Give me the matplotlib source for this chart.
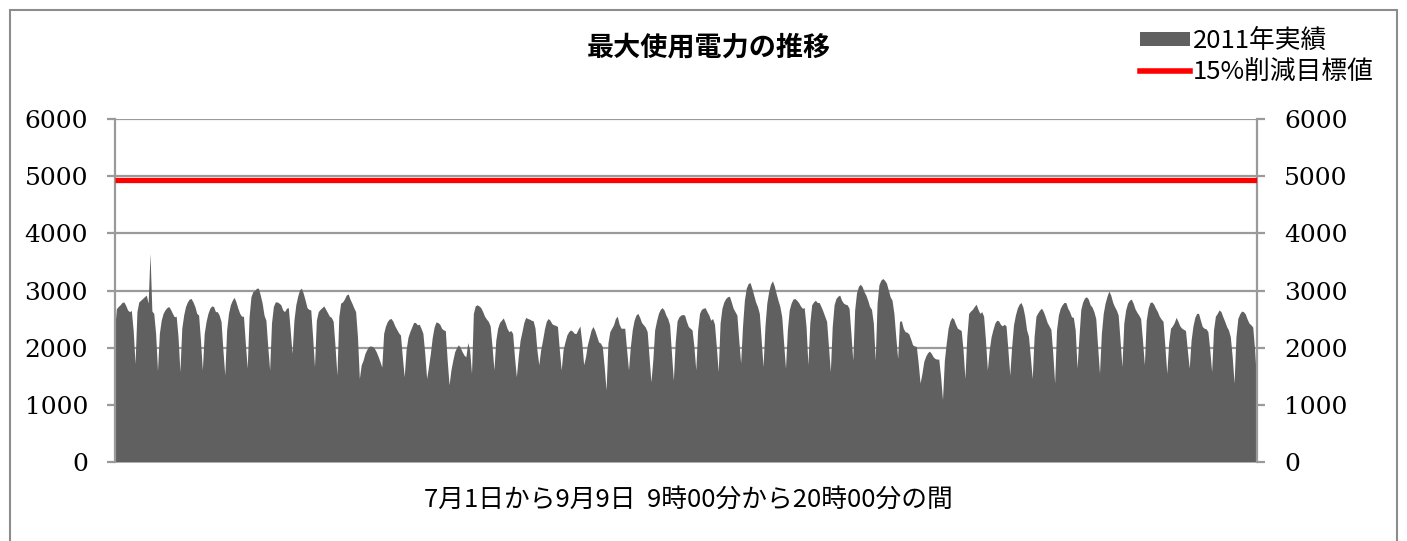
import matplotlib
matplotlib.use("Agg")
import matplotlib.pyplot as plt
import numpy as np
from matplotlib.patches import Patch, Rectangle
from matplotlib.lines import Line2D

# hourly readings 9:00 .. 20:00 (12 values per weekday)
hours = list(range(9, 21))

jul_values = [
    [2300, 2680, 2720, 2750, 2790, 2800, 2740, 2660, 2630, 2650, 2300, 1720],
    [2630, 2800, 2830, 2860, 2890, 2920, 2780, 3650, 2640, 2600, 2250, 1600],
    [2250, 2480, 2600, 2660, 2700, 2720, 2670, 2600, 2540, 2550, 2190, 1580],
    [2340, 2570, 2720, 2800, 2850, 2860, 2800, 2720, 2600, 2570, 2130, 1610],
    [2250, 2460, 2600, 2690, 2730, 2720, 2630, 2630, 2570, 2460, 1960, 1520],
    [2310, 2600, 2750, 2830, 2880, 2800, 2690, 2600, 2550, 2550, 2080, 1640],
    [2540, 2890, 2980, 3000, 3040, 3040, 2920, 2780, 2570, 2480, 2020, 1610],
    [2430, 2720, 2800, 2800, 2780, 2750, 2660, 2630, 2690, 2700, 2310, 1900],
    [2480, 2750, 2900, 3010, 3040, 2950, 2830, 2700, 2670, 2660, 2190, 1670],
    [2480, 2630, 2670, 2700, 2730, 2670, 2610, 2550, 2530, 2460, 2020, 1520],
    [2540, 2780, 2800, 2850, 2920, 2940, 2850, 2780, 2700, 2630, 2190, 1460],
    [1700, 1780, 1900, 1970, 2020, 2030, 2020, 1990, 1930, 1850, 1760, 1660],
    [2250, 2380, 2460, 2500, 2510, 2460, 2380, 2320, 2260, 2220, 1840, 1490],
    [1960, 2180, 2280, 2360, 2440, 2440, 2400, 2410, 2340, 2250, 1900, 1460],
    [1670, 1900, 2180, 2360, 2450, 2440, 2410, 2340, 2310, 2300, 1780, 1350],
    [1610, 1780, 1930, 2000, 2050, 2000, 1930, 1870, 1840, 2090, 1960, 1550],
    [2600, 2730, 2750, 2730, 2700, 2630, 2550, 2500, 2460, 2380, 2020, 1610],
    [2130, 2340, 2440, 2480, 2520, 2440, 2340, 2280, 2300, 2250, 1840, 1490],
    [1840, 2130, 2280, 2440, 2530, 2510, 2500, 2480, 2470, 2340, 1960, 1700],
    [1960, 2130, 2320, 2460, 2510, 2480, 2420, 2400, 2390, 2370, 1960, 1610],
    [1960, 2100, 2220, 2280, 2310, 2290, 2250, 2250, 2320, 2380, 2100, 1700],
]

aug_values = [
    [1840, 2050, 2180, 2310, 2370, 2300, 2200, 2100, 2080, 2020, 1670, 1260],
    [2080, 2280, 2340, 2400, 2510, 2550, 2410, 2340, 2340, 2340, 1960, 1610],
    [2020, 2310, 2480, 2570, 2600, 2530, 2440, 2400, 2360, 2280, 1840, 1400],
    [1780, 2310, 2470, 2600, 2670, 2700, 2660, 2570, 2510, 2400, 1900, 1430],
    [2100, 2470, 2540, 2570, 2580, 2570, 2460, 2370, 2340, 2310, 2020, 1610],
    [2310, 2600, 2670, 2690, 2700, 2630, 2570, 2480, 2510, 2410, 2020, 1580],
    [2430, 2690, 2800, 2860, 2890, 2900, 2800, 2690, 2630, 2570, 2130, 1730],
    [2370, 2830, 3040, 3120, 3140, 3040, 2920, 2800, 2720, 2600, 2130, 1670],
    [2370, 2780, 2980, 3110, 3170, 3080, 2950, 2830, 2720, 2540, 2080, 1640],
    [2310, 2660, 2780, 2850, 2860, 2830, 2790, 2730, 2690, 2700, 2370, 1700],
    [2430, 2750, 2800, 2830, 2790, 2790, 2720, 2640, 2550, 2460, 2020, 1580],
    [2370, 2750, 2860, 2900, 2920, 2830, 2780, 2760, 2750, 2690, 2250, 1780],
    [2660, 2960, 3070, 3110, 3070, 2980, 2920, 2830, 2720, 2670, 2430, 1780],
    [2780, 3100, 3180, 3210, 3180, 3130, 3010, 2890, 2830, 2600, 2190, 1810],
    [2460, 2470, 2340, 2280, 2270, 2240, 2150, 2050, 2030, 2020, 1730, 1380],
    [1550, 1760, 1850, 1910, 1940, 1900, 1840, 1810, 1800, 1800, 1490, 1090],
    [1780, 2080, 2340, 2470, 2530, 2500, 2410, 2340, 2320, 2300, 1960, 1460],
    [2190, 2600, 2640, 2670, 2720, 2760, 2670, 2600, 2630, 2550, 2130, 1610],
    [1960, 2190, 2320, 2430, 2480, 2470, 2410, 2380, 2410, 2380, 1960, 1520],
    [2020, 2400, 2570, 2690, 2760, 2790, 2710, 2550, 2310, 2200, 1840, 1460],
    [2190, 2550, 2610, 2660, 2690, 2630, 2540, 2440, 2380, 2320, 1900, 1380],
    [2310, 2570, 2690, 2750, 2790, 2790, 2690, 2630, 2540, 2530, 2310, 1640],
    [2190, 2670, 2800, 2870, 2890, 2850, 2750, 2710, 2630, 2510, 2020, 1550],
]

sep_values = [
    [2250, 2600, 2780, 2900, 2990, 2920, 2800, 2720, 2660, 2570, 2130, 1670],
    [2430, 2660, 2780, 2830, 2850, 2780, 2680, 2620, 2570, 2510, 2130, 1700],
    [2480, 2690, 2790, 2800, 2760, 2690, 2630, 2550, 2500, 2460, 2020, 1550],
    [2080, 2340, 2380, 2440, 2530, 2460, 2380, 2340, 2320, 2300, 1960, 1640],
    [2130, 2380, 2530, 2600, 2600, 2480, 2370, 2340, 2330, 2280, 1960, 1580],
    [2310, 2550, 2600, 2660, 2630, 2540, 2460, 2370, 2310, 2190, 1840, 1380],
    [2190, 2510, 2590, 2640, 2630, 2590, 2500, 2430, 2400, 2360, 1960, 1430],
]

target_value = 4930
y_ticks = [0, 1000, 2000, 3000, 4000, 5000, 6000]

title_text = "最大使用電力の推移"
xlabel_text = "7月1日から9月9日  9時00分から20時00分の間"
series_actual = "2011年実績"
series_target = "15%削減目標値"

cjk = ["Noto Sans CJK JP", "DejaVu Sans"]

actual = np.concatenate([np.ravel(jul_values), np.ravel(aug_values), np.ravel(sep_values)])
x = np.arange(len(actual))
target = np.full(len(actual), target_value)

W, H = 1407, 541
fig = plt.figure(figsize=(W / 100, H / 100), dpi=100)
fig.patch.set_facecolor("white")

# chart border
fig.patches.append(Rectangle((10 / W, -0.05), (1397 - 10) / W, 1.05 - 10 / H,
                             transform=fig.transFigure, fill=False,
                             edgecolor="#8c8c8c", linewidth=1.5))

ax = fig.add_axes([114.5 / W, 1 - 462 / H, (1256.5 - 114.5) / W, (462 - 119) / H])
grid_col = "#9a9a9a"
ax.fill_between(x, actual, 0, color="#606060", linewidth=0, zorder=2)
ax.plot(x, target, color="#ff0000", linewidth=3.8, zorder=3, solid_capstyle="butt")

ax.set_xlim(x[0], x[-1])
ax.set_ylim(0, 6000)
ax.set_yticks(y_ticks)
for v in y_ticks:
    ax.axhline(v, color=grid_col, linewidth=1.6, zorder=1)
ax.set_xticks([])
for s in ["top", "bottom"]:
    ax.spines[s].set_visible(False)
for s in ["left", "right"]:
    ax.spines[s].set_color(grid_col)
    ax.spines[s].set_linewidth(1.6)

serif = "DejaVu Serif"
ax.tick_params(axis="y", direction="out", length=6, width=1.6, color=grid_col,
               labelsize=18, pad=13)
for lab in ax.get_yticklabels():
    lab.set_family(serif)

ax2 = ax.twinx()
ax2.set_ylim(0, 6000)
ax2.set_yticks(y_ticks)
ax2.tick_params(axis="y", direction="out", length=6, width=1.6, color=grid_col,
                labelsize=18, pad=14)
for lab in ax2.get_yticklabels():
    lab.set_family(serif)
for s in ax2.spines.values():
    s.set_visible(False)

fig.text(709 / W, 1 - 48 / H, title_text, ha="center", va="center",
         fontsize=19.5, fontweight="bold", family=cjk)
fig.text(688 / W, 1 - 500 / H, xlabel_text, ha="center", va="center",
         fontsize=18.5, family=cjk)

handles = [Patch(facecolor="#606060", edgecolor="none"),
           Line2D([0], [0], color="#ff0000", linewidth=4)]
fig.legend(handles, [series_actual, series_target], loc="upper left",
           bbox_to_anchor=(1140 / W, 1 - 28 / H), frameon=False,
           prop={"family": cjk, "size": 18.5}, handlelength=1.95,
           handleheight=0.5, handletextpad=0.12, labelspacing=0.22,
           borderaxespad=0, borderpad=0)

fig.savefig("out.png", dpi=100)
